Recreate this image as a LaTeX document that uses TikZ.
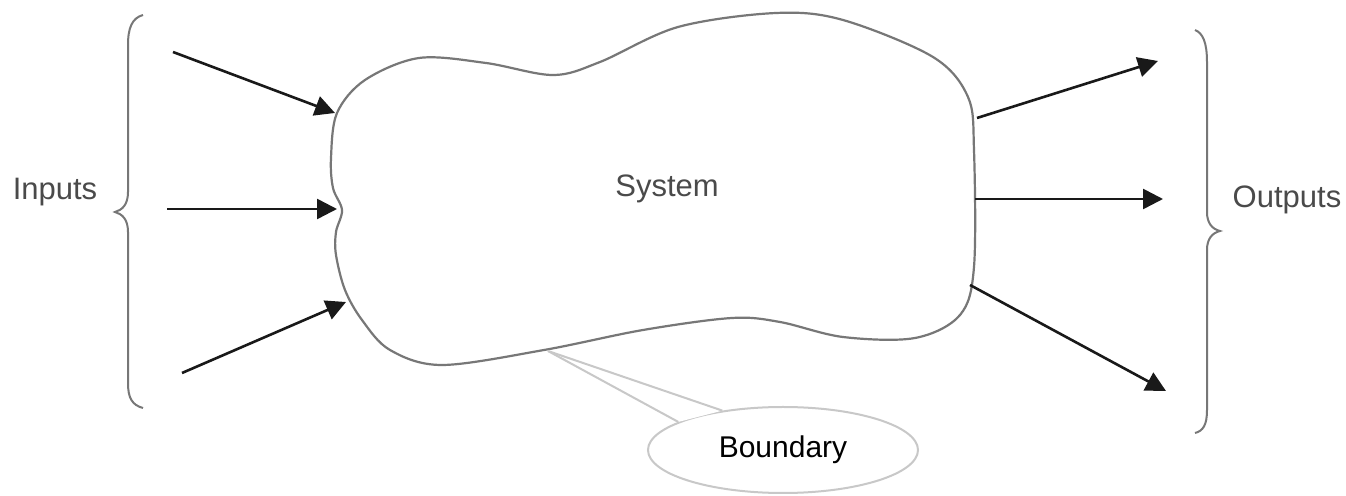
\documentclass[tikz,border=0pt]{standalone}
\usepackage{fontspec}
\setmainfont{Liberation Sans}
\usetikzlibrary{arrows.meta}
\definecolor{linegray}{HTML}{777777}
\definecolor{textgray}{HTML}{4A4A4A}
\definecolor{bubblegray}{HTML}{C8C8C8}
\tikzset{
  flow/.style={draw=black!90, line width=1.3pt, -{Triangle[length=10pt,width=10pt]}},
  bracestyle/.style={draw=linegray, line width=1pt},
  blobstyle/.style={draw=linegray, line width=1.1pt},
  lbl/.style={text=textgray, font=\fontsize{15.5}{18}\selectfont, anchor=base, inner sep=0pt},
  bubble/.style={ellipse, draw=bubblegray, fill=white, line width=1pt, minimum width=135pt, minimum height=43pt, inner sep=0pt},
  tail/.style={draw=bubblegray, line width=1pt}
}
\usetikzlibrary{shapes.geometric}
\begin{document}
\begin{tikzpicture}[x=0.5pt,y=-0.5pt]
\useasboundingbox (0,0) rectangle (1346,496);
\fill[white] (0,0) rectangle (1346,496);
% system boundary
\draw[blobstyle] plot[smooth cycle, tension=0.55] coordinates {
 (337,113) (365,80) (419,58) (486,63) (553,75) (600,62) (678,27) (776,13)
 (843,20) (933,57) (968,97) (974,150) (974,267) (960,315) (915,338) (843,337)
 (780,322) (732,318) (643,330) (544,350) (442,365) (390,350) (362,320)
 (345,290) (336,255) (336,232) (342,210) (333,188) (331,158)};
\node[lbl] (system) at (667,197) {System};
% braces
\draw[bracestyle] (143,15) .. controls (132,18) and (128,28) .. (128,45) -- (128,192)
  .. controls (128,205) and (122,210) .. (115,212)
  .. controls (122,214) and (128,219) .. (128,232) -- (128,383)
  .. controls (128,398) and (132,405) .. (143,408);
\draw[bracestyle] (1195,30) .. controls (1203,33) and (1207,43) .. (1207,62) -- (1207,212)
  .. controls (1207,223) and (1212,229) .. (1220,231)
  .. controls (1212,233) and (1207,239) .. (1207,250) -- (1207,410)
  .. controls (1207,425) and (1203,431) .. (1195,433);
\node[lbl] (inputs) at (55,200) {Inputs};
\node[lbl] (outputs) at (1287,208) {Outputs};
% input arrows
\coordinate (in1s) at (173,52);  \coordinate (in1e) at (335,113);
\coordinate (in2s) at (167,209); \coordinate (in2e) at (337,209);
\coordinate (in3s) at (182,373); \coordinate (in3e) at (346,302);
\draw[flow] (in1s) -- (in1e);
\draw[flow] (in2s) -- (in2e);
\draw[flow] (in3s) -- (in3e);
% output arrows
\coordinate (out1s) at (977,118); \coordinate (out1e) at (1158,61);
\coordinate (out2s) at (975,199); \coordinate (out2e) at (1163,199);
\coordinate (out3s) at (970,285); \coordinate (out3e) at (1166,391);
\draw[flow] (out1s) -- (out1e);
\draw[flow] (out2s) -- (out2e);
\draw[flow] (out3s) -- (out3e);
% boundary callout
\node[bubble] (boundary) at (783,450) {};
\coordinate (tip) at (548,351);
\fill[white] (tip) -- (boundary.165) -- (boundary.147) -- cycle;
\draw[tail] (tip) -- (boundary.165);
\draw[tail] (tip) -- (boundary.147);
\node[font=\fontsize{15}{18}\selectfont, text=black, anchor=base, inner sep=0pt] (boundarytext) at (783,458) {Boundary};
\end{tikzpicture}
\end{document}
